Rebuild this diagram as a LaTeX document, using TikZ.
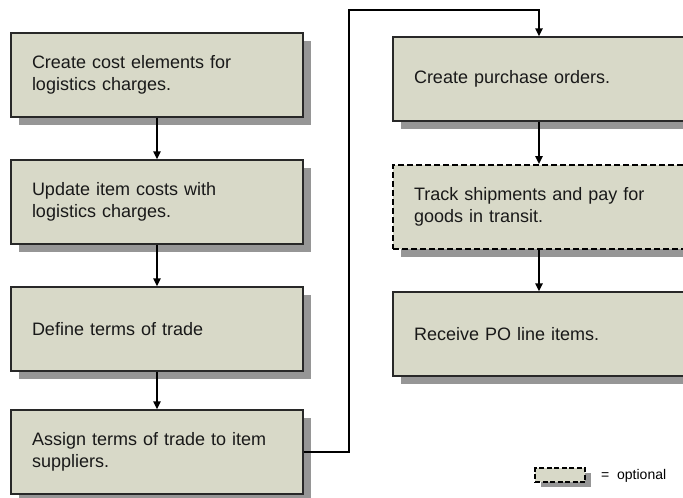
\documentclass[tikz,border=0pt]{standalone}
\usepackage{fontspec}
\setmainfont{Liberation Sans}
\usetikzlibrary{arrows.meta,shadows}
\definecolor{boxfill}{RGB}{216,217,200}
\definecolor{shadowgray}{RGB}{150,150,150}
\definecolor{edgecol}{RGB}{40,40,40}
\tikzset{
  stepbox/.style={draw=edgecol, line width=1.4pt, fill=boxfill, rectangle,
    minimum width=292pt, minimum height=84pt, text width=250pt, inner xsep=21pt,
    align=left, font=\fontsize{18}{21.5}\selectfont, text=black!90,
    drop shadow={shadow xshift=8pt, shadow yshift=-8pt, fill=shadowgray, opacity=1}},
  optbox/.style={stepbox, draw=black, dash pattern=on 6pt off 3pt, line width=2pt},
  legbox/.style={draw=black, fill=boxfill, rectangle, dash pattern=on 5pt off 2.5pt,
    line width=2pt, minimum width=50pt, minimum height=14pt, inner sep=0pt,
    drop shadow={shadow xshift=6pt, shadow yshift=-5pt, fill=shadowgray, opacity=1}},
  flow/.style={line width=1.5pt, draw=black, -{Triangle[width=7.5pt,length=8pt]}},
}
\begin{document}
\begin{tikzpicture}[x=1pt,y=-1pt]
\useasboundingbox (0,0) rectangle (683,498);
\clip (0,0) rectangle (683,498);
\node[stepbox] (b1) at (157,75) {Create cost elements for\\logistics charges.};
\node[stepbox] (b2) at (157,202) {Update item costs with\\logistics charges.};
\node[stepbox] (b3) at (157,329) {Define terms of trade};
\node[stepbox] (b4) at (157,452) {Assign terms of trade to item\\suppliers.};
\node[stepbox] (b5) at (539,79) {Create purchase orders.};
\node[optbox] (b6) at (539,207) {Track shipments and pay for\\goods in transit.};
\node[stepbox] (b7) at (539,334) {Receive PO line items.};
\coordinate (c1) at (349,10);
\draw[flow] (b1) -- (b2);
\draw[flow] (b2) -- (b3);
\draw[flow] (b3) -- (b4);
\draw[flow] (b4.east) -| (c1) -| (b5.north);
\draw[flow] (b5) -- (b6);
\draw[flow] (b6) -- (b7);
\node[legbox] (lg) at (560,475) {};
\node[anchor=west, font=\fontsize{14}{16}\selectfont, inner sep=0pt] (lt) at (601,476) {=\ \ optional};
\end{tikzpicture}
\end{document}
